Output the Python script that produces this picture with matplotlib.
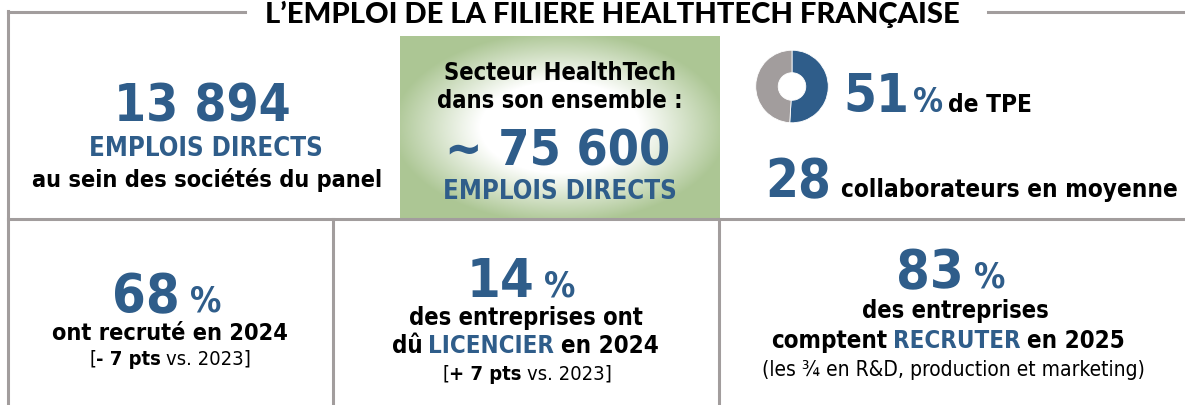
import matplotlib
matplotlib.use("Agg")
import matplotlib.pyplot as plt
import numpy as np
from matplotlib import font_manager as fm

# --- données ---
titre = "L’EMPLOI DE LA FILIERE HEALTHTECH FRANÇAISE"
emplois_panel = "13 894"
emplois_secteur = "~ 75 600"
part_tpe = [51, 49]          # % de TPE / autres
effectif_moyen = "28"
recrute_2024 = "68"
licencie_2024 = "14"
recruter_2025 = "83"
evol_recrute = "- 7 pts"
evol_licencie = "+ 7 pts"
annee_ref = "2023"

W, H = 1185, 406
BLEU = "#2f5d8a"
GRIS = "#a29d9d"
VERT = np.array([172, 198, 148]) / 255


def police(poids):
    # cherche une police condensée installée, sinon DejaVu
    best, score = None, 1e9
    for f in fm.fontManager.ttflist:
        if f.stretch != "condensed" or f.style != "normal":
            continue
        w = f.weight if isinstance(f.weight, int) else fm.weight_dict.get(f.weight, 400)
        s = abs(w - poids)
        if s < score:
            best, score = f, s
    if best is None:
        return fm.FontProperties(family="DejaVu Sans", weight=poids)
    return fm.FontProperties(fname=best.fname)


GRAS = police(700)
NORM = police(400)
TITRE = fm.FontProperties(family="Lato", weight="black")

fig = plt.figure(figsize=(W / 100, H / 100), dpi=100)
ax = fig.add_axes([0, 0, 1, 1])
ax.axis("off")

# dégradé vert du cadre central
yy, xx = np.mgrid[-1:1:183j, -1:1:320j]
d = np.sqrt(xx ** 2 + yy ** 2)
t = np.clip((d - 0.5) / 0.55, 0, 1)[..., None]
img = (1 - t) + t * VERT
ax.imshow(img, extent=[400, 720, 220, 37], aspect="auto", interpolation="bilinear", zorder=0)

ax.set_xlim(0, W)
ax.set_ylim(H, 0)

# cadres gris
lw = 2.2
ax.plot([8, 245], [13, 13], color=GRIS, lw=lw)
ax.plot([988, W], [13, 13], color=GRIS, lw=lw)
ax.plot([8, 8], [12, H], color=GRIS, lw=lw)
ax.plot([8, W], [220, 220], color=GRIS, lw=lw)
ax.plot([333, 333], [220, H], color=GRIS, lw=lw)
ax.plot([719, 719], [220, H], color=GRIS, lw=lw)

rend = fig.canvas.get_renderer()


def ligne(x, yb, morceaux, centre=True):
    # morceaux : (texte, taille, couleur, police, espace avant en em)
    objs, esp = [], []
    for txt, taille, coul, fp, e in morceaux:
        objs.append(ax.text(0, yb, txt, fontproperties=fp, size=taille, color=coul,
                            ha="left", va="baseline"))
        esp.append(e * taille * 100 / 72)
    larg = [o.get_window_extent(rend).width for o in objs]
    total = sum(larg) + sum(esp)
    x0 = x - total / 2 if centre else x
    for o, l, e in zip(objs, larg, esp):
        x0 += e
        o.set_x(x0)
        x0 += l


# titre
ax.text(612, 23.5, titre, fontproperties=TITRE, size=21, color="black", ha="center", va="baseline")

# panneau 1
ligne(202, 122, [(emplois_panel, 37, BLEU, GRAS, 0)])
ligne(206, 156, [("EMPLOIS DIRECTS", 18.5, BLEU, GRAS, 0)])
ligne(207, 187, [("au sein des sociétés du panel", 16.8, "black", GRAS, 0)])

# panneau 2 (vert)
ligne(560, 80, [("Secteur HealthTech", 17, "black", GRAS, 0)])
ligne(560, 108, [("dans son ensemble :", 17, "black", GRAS, 0)])
ligne(558, 166, [(emplois_secteur, 36, BLEU, GRAS, 0)])
ligne(560, 199, [("EMPLOIS DIRECTS", 18.5, BLEU, GRAS, 0)])

# panneau 3 : anneau TPE
axd = fig.add_axes([755 / W, 1 - 125 / H, 74 / W, 75 / H])
axd.pie(part_tpe, colors=[BLEU, GRIS], startangle=90, counterclock=False,
        wedgeprops=dict(width=0.62, edgecolor="white", linewidth=0.6))
axd.set_xlim(-1.02, 1.02)
axd.set_ylim(-1.02, 1.02)
axd.set_aspect("equal")
ligne(843, 112, [(str(part_tpe[0]), 38, BLEU, GRAS, 0), ("%", 24, BLEU, GRAS, 0.12),
                 ("de TPE", 17.5, "black", GRAS, 0.2)], centre=False)
ligne(765, 197, [(effectif_moyen, 38, BLEU, GRAS, 0),
                 ("collaborateurs en moyenne", 17.5, "black", GRAS, 0.4)], centre=False)

# panneau 4
ligne(167, 312, [(recrute_2024, 39, BLEU, GRAS, 0), ("%", 25, BLEU, GRAS, 0.3)])
ligne(170, 340, [("ont recruté en 2024", 16.8, "black", GRAS, 0)])
ligne(170, 365, [("[", 14.5, "black", NORM, 0), (evol_recrute, 14.5, "black", GRAS, 0),
                 ("vs. " + annee_ref + "]", 14.5, "black", NORM, 0.25)])

# panneau 5
ligne(521, 297, [(licencie_2024, 39, BLEU, GRAS, 0), ("%", 25, BLEU, GRAS, 0.3)])
ligne(526, 325, [("des entreprises ont", 17, "black", GRAS, 0)])
ligne(525, 353, [("dû", 17.3, "black", GRAS, 0), ("LICENCIER", 17.3, BLEU, GRAS, 0.25),
                 ("en 2024", 17.3, "black", GRAS, 0.25)])
ligne(527, 380, [("[", 14.5, "black", NORM, 0), (evol_licencie, 14.5, "black", GRAS, 0),
                 ("vs. " + annee_ref + "]", 14.5, "black", NORM, 0.25)])

# panneau 6
ligne(951, 288, [(recruter_2025, 39, BLEU, GRAS, 0), ("%", 25, BLEU, GRAS, 0.3)])
ligne(955, 318, [("des entreprises", 17, "black", GRAS, 0)])
ligne(948, 348, [("comptent", 17.3, "black", GRAS, 0), ("RECRUTER", 17.3, BLEU, GRAS, 0.25),
                 ("en 2025", 17.3, "black", GRAS, 0.25)])
ligne(953, 376, [("(les ¾ en R&D, production et marketing)", 15, "black", NORM, 0)])

fig.savefig("out.png", dpi=100)
